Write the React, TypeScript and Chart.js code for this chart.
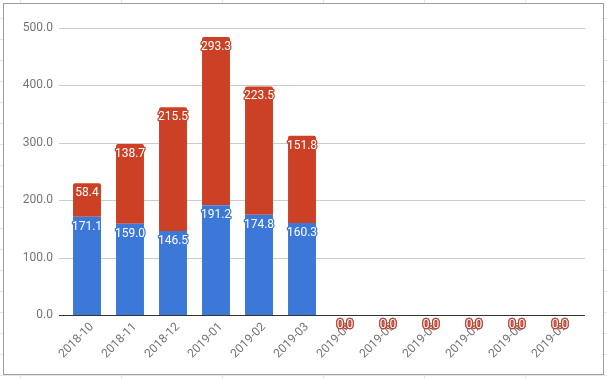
import React, { useEffect, useRef } from "react";
import { Chart, registerables } from "chart.js";

Chart.register(...registerables);

const categories = [
  "2018-10", "2018-11", "2018-12", "2019-01", "2019-02", "2019-03",
  "2019-04", "2019-05", "2019-06", "2019-07", "2019-08", "2019-09",
];
const blueValues = [171.1, 159.0, 146.5, 191.2, 174.8, 160.3, 0, 0, 0, 0, 0, 0];
const redValues = [58.4, 138.7, 215.5, 293.3, 223.5, 151.8, 0, 0, 0, 0, 0, 0];
const yTicks = [0, 100, 200, 300, 400, 500];

const BLUE = "#3c78d8";
const RED = "#cc4125";

const gridPlugin = {
  id: "extGrid",
  beforeDatasetsDraw(chart: any) {
    const { ctx, chartArea } = chart;
    const y = chart.scales.y;
    ctx.save();
    yTicks.forEach((t) => {
      if (t === 0) return;
      const py = Math.round(y.getPixelForValue(t)) + 0.5;
      ctx.strokeStyle = "#cccccc";
      ctx.lineWidth = 1;
      ctx.beginPath();
      ctx.moveTo(chartArea.left - 6.5, py);
      ctx.lineTo(chartArea.right + 3.5, py);
      ctx.stroke();
    });
    ctx.restore();
  },
  afterDatasetsDraw(chart: any) {
    const { ctx, chartArea } = chart;
    const y = chart.scales.y;
    ctx.save();
    const py = Math.round(y.getPixelForValue(0)) + 0.5;
    ctx.strokeStyle = "#333333";
    ctx.lineWidth = 1;
    ctx.beginPath();
    ctx.moveTo(chartArea.left - 6.5, py);
    ctx.lineTo(chartArea.right + 3.5, py);
    ctx.stroke();

    ctx.font = "12px Roboto";
    ctx.textAlign = "center";
    ctx.textBaseline = "middle";
    ctx.lineJoin = "round";
    chart.data.datasets.forEach((ds: any, i: number) => {
      const meta = chart.getDatasetMeta(i);
      meta.data.forEach((bar: any, j: number) => {
        const v = ds.data[j];
        const text = v.toFixed(1);
        const { x, y: by } = bar.getProps(["x", "y"], true);
        const ty = by + 10;
        ctx.lineWidth = 2.5;
        ctx.strokeStyle = ds.backgroundColor;
        ctx.strokeText(text, x, ty);
        ctx.fillStyle = "#ffffff";
        ctx.fillText(text, x, ty);
      });
    });
    ctx.restore();
  },
};

export default function App() {
  const ref = useRef<HTMLCanvasElement | null>(null);
  useEffect(() => {
    if (!ref.current) return;
    const chart = new Chart(ref.current, {
      type: "bar",
      data: {
        labels: categories,
        datasets: [
          {
            label: "A",
            data: blueValues,
            backgroundColor: BLUE,
            barPercentage: 0.65,
            categoryPercentage: 1,
            borderSkipped: false,
          },
          {
            label: "B",
            data: redValues,
            backgroundColor: RED,
            barPercentage: 0.65,
            categoryPercentage: 1,
            borderRadius: { topLeft: 2, topRight: 2, bottomLeft: 0, bottomRight: 0 },
            borderSkipped: false,
          },
        ],
      },
      options: {
        animation: false,
        responsive: false,
        devicePixelRatio: 1,
        layout: { padding: { left: 0, right: 25.5, top: 28, bottom: 0 } },
        plugins: { legend: { display: false }, tooltip: { enabled: false } },
        scales: {
          x: {
            stacked: true,
            offset: true,
            grid: { display: false, drawTicks: false },
            border: { display: false },
            ticks: {
              minRotation: 45,
              maxRotation: 45,
              autoSkip: false,
              padding: 5,
              labelOffset: 5,
              color: "#757575",
              font: { family: "Roboto", size: 12 },
            },
            afterFit(scale: any) {
              scale.height = 64;
            },
          },
          y: {
            stacked: true,
            min: 0,
            max: 500,
            grid: { display: false, drawTicks: false },
            border: { display: false },
            ticks: {
              stepSize: 100,
              padding: 12.5,
              color: "#757575",
              font: { family: "Roboto", size: 12 },
              callback: (v: any) => Number(v).toFixed(1),
            },
            afterFit(scale: any) {
              scale.width = 65.5;
            },
          },
        },
      },
      plugins: [gridPlugin],
    });
    return () => chart.destroy();
  }, []);

  return (
    <div
      style={{
        position: "absolute",
        left: 0,
        top: 0,
        width: 607,
        height: 379,
        overflow: "hidden",
        backgroundColor: "#ffffff",
        backgroundImage:
          "linear-gradient(to right, #e6e6e6 1px, transparent 1px), linear-gradient(to bottom, #e6e6e6 1px, transparent 1px)",
        backgroundSize: "101px 21px",
        backgroundPosition: "20px 18px",
      }}
    >
      <div
        style={{
          position: "absolute",
          left: 3,
          top: 3,
          width: 599,
          height: 370,
          border: "1px solid #9e9e9e",
          background: "#ffffff",
        }}
      />
      <canvas
        ref={ref}
        width={607}
        height={379}
        style={{ position: "absolute", left: 0, top: 0 }}
      />
    </div>
  );
}
